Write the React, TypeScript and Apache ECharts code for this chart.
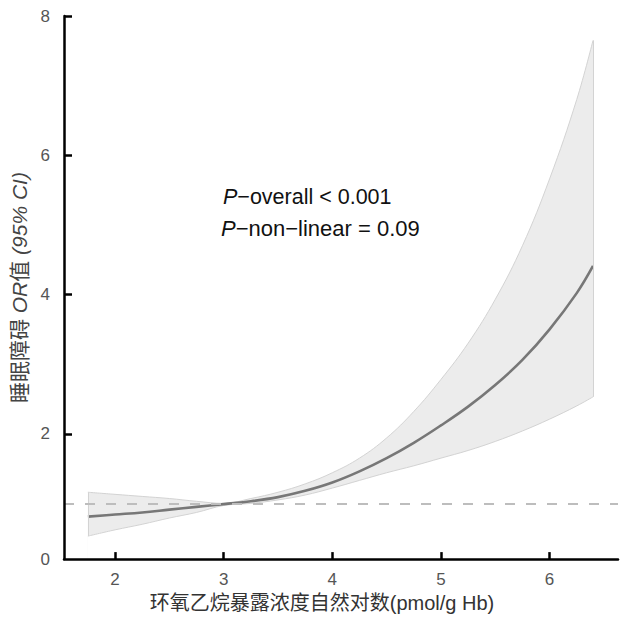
import React, { useEffect, useRef } from "react";
import * as echarts from "echarts";

const xValues = [1.75, 2.0, 2.25, 2.5, 2.75, 3.0, 3.25, 3.5, 3.75, 4.0, 4.25, 4.5, 4.75, 5.0, 5.25, 5.5, 5.75, 6.0, 6.25, 6.4];
const orValues = [0.81, 0.84, 0.87, 0.91, 0.95, 0.99, 1.03, 1.09, 1.18, 1.3, 1.46, 1.65, 1.87, 2.12, 2.39, 2.7, 3.06, 3.5, 4.02, 4.41];
const upperCI = [1.16, 1.13, 1.1, 1.07, 1.03, 1.0, 1.07, 1.16, 1.28, 1.44, 1.65, 1.94, 2.32, 2.78, 3.3, 3.93, 4.7, 5.66, 6.8, 7.65];
const lowerCI = [0.53, 0.62, 0.7, 0.79, 0.87, 0.97, 1.0, 1.05, 1.12, 1.22, 1.33, 1.44, 1.54, 1.65, 1.76, 1.89, 2.04, 2.21, 2.4, 2.53];

const xTicks = [2, 3, 4, 5, 6];
const yTicks = [2, 4, 6, 8];
const yLabelValues = [0.2, 2, 4, 6, 8];
const referenceOR = 1;

const FONT = '"Liberation Sans", Arial, "Noto Sans CJK SC", sans-serif';
const EDGE = "#d3d3d3";

export default function App() {
  const ref = useRef<HTMLDivElement>(null);
  useEffect(() => {
    if (!ref.current) return;
    const chart = echarts.init(ref.current, undefined, { renderer: "svg" });
    const lineData = xValues.map((x, i) => [x, orValues[i]]);
    const upperData = xValues.map((x, i) => [x, upperCI[i]]);
    const lowerData = xValues.map((x, i) => [x, lowerCI[i]]);
    const n = xValues.length - 1;
    chart.setOption({
      animation: false,
      backgroundColor: "#ffffff",
      textStyle: { fontFamily: FONT },
      grid: { left: 64, right: 15, top: 16, bottom: 55, containLabel: false },
      xAxis: {
        type: "value",
        z: 10,
        min: 1.53,
        max: 6.63,
        name: "环氧乙烷暴露浓度自然对数(pmol/g Hb)",
        nameLocation: "middle",
        nameGap: 30,
        nameTextStyle: { fontSize: 20, color: "#333", fontFamily: FONT, padding: [0, 38, 0, 0] },
        axisLine: { show: true, lineStyle: { color: "#000", width: 2.5 } },
        axisTick: { show: true, inside: true, length: 7, lineStyle: { color: "#000", width: 2.5 }, customValues: xTicks },
        axisLabel: { show: true, customValues: xTicks, color: "#555", fontSize: 17, margin: 12, fontFamily: FONT },
        splitLine: { show: false },
      },
      yAxis: {
        type: "value",
        z: 10,
        min: 0.2,
        max: 8,
        name: "{a|睡眠障碍 }{i|OR}{a|值 }{i|(95% CI)}",
        nameLocation: "middle",
        nameRotate: 90,
        nameGap: 33,
        nameTextStyle: {
          rich: {
            a: { fontSize: 21, color: "#444", fontFamily: FONT },
            i: { fontSize: 21, color: "#444", fontStyle: "italic", fontFamily: FONT },
          },
        },
        axisLine: { show: true, lineStyle: { color: "#000", width: 2.5 } },
        axisTick: { show: true, inside: true, length: 8, lineStyle: { color: "#000", width: 2.5 }, customValues: yTicks },
        axisLabel: {
          show: true,
          customValues: yLabelValues,
          formatter: (v: number) => String(Math.round(v)),
          color: "#555",
          fontSize: 17,
          margin: 14,
          fontFamily: FONT,
        },
        splitLine: { show: false },
      },
      series: [
        {
          type: "line",
          name: "upper",
          data: upperData,
          smooth: 0.4,
          symbol: "none",
          silent: true,
          lineStyle: { color: EDGE, width: 1 },
          areaStyle: { color: "#ececec", opacity: 1, origin: "start" },
          z: 1,
        },
        {
          type: "line",
          name: "lower",
          data: lowerData,
          smooth: 0.4,
          symbol: "none",
          silent: true,
          lineStyle: { color: EDGE, width: 1 },
          areaStyle: { color: "#ffffff", opacity: 1, origin: "start" },
          z: 2,
          markLine: {
            silent: true,
            symbol: "none",
            label: { show: false },
            lineStyle: { color: EDGE, width: 1, type: "solid" },
            data: [
              [{ coord: [xValues[0], lowerCI[0]] }, { coord: [xValues[0], upperCI[0]] }],
              [{ coord: [xValues[n], lowerCI[n]] }, { coord: [xValues[n], upperCI[n]] }],
            ],
          },
        },
        {
          type: "line",
          data: lineData,
          smooth: 0.4,
          symbol: "none",
          lineStyle: { color: "#777777", width: 2.6 },
          z: 3,
          markLine: {
            silent: true,
            symbol: "none",
            label: { show: false },
            lineStyle: { color: "#bdbdbd", width: 2, type: [10, 11] },
            data: [{ yAxis: referenceOR }],
          },
        },
      ],
      graphic: [
        {
          type: "text",
          left: 223,
          top: 186,
          style: {
            text: "{i|P}{n|−overall < 0.001}",
            rich: {
              i: { fontSize: 21.5, fontStyle: "italic", fill: "#111", fontFamily: FONT },
              n: { fontSize: 21.5, fill: "#111", fontFamily: FONT },
            },
          },
        },
        {
          type: "text",
          left: 221,
          top: 217,
          style: {
            text: "{i|P}{n|−non−linear = 0.09}",
            rich: {
              i: { fontSize: 22, fontStyle: "italic", fill: "#111", fontFamily: FONT },
              n: { fontSize: 22, fill: "#111", fontFamily: FONT },
            },
          },
        },
      ],
    });
    return () => chart.dispose();
  }, []);
  return <div ref={ref} style={{ position: "fixed", left: 0, top: 0, width: 633, height: 618, background: "#fff" }} />;
}
